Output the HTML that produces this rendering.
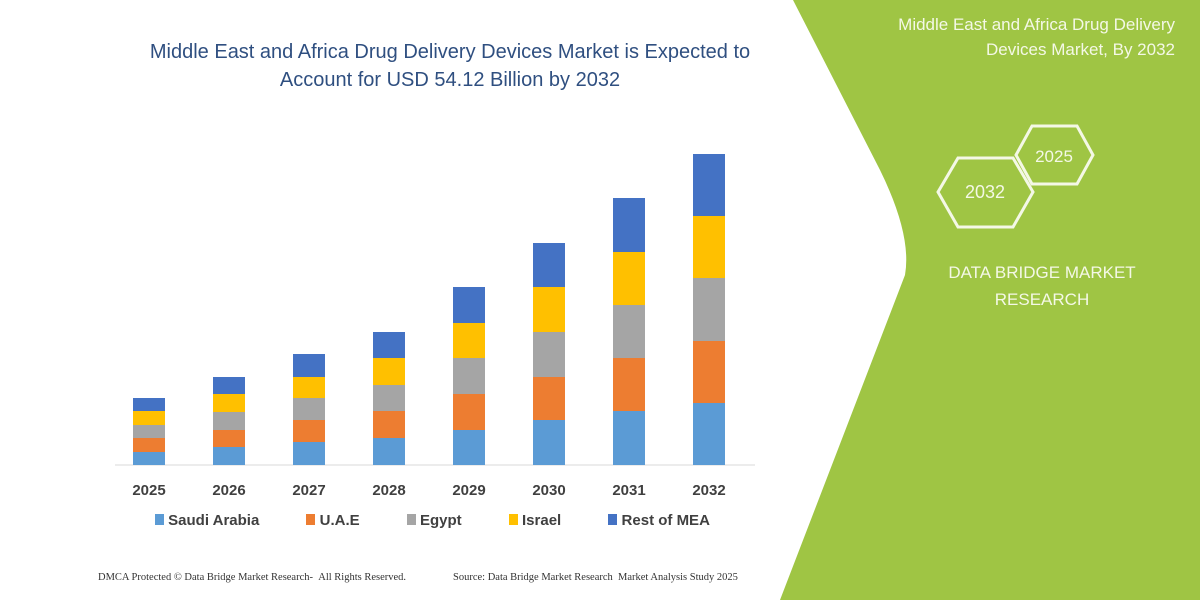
<!DOCTYPE html>
<html><head><style>
body{margin:0;width:1200px;height:600px;overflow:hidden;background:#fff;font-family:"Liberation Sans",sans-serif;position:relative}
.t{position:absolute;white-space:nowrap}
.sq{display:inline-block;width:9px;height:11px}
</style></head><body>
<svg width="1200" height="600" style="position:absolute;left:0;top:0">
<path d="M793,0 L880,170 Q912,235 905,275 L780,600 L1200,600 L1200,0 Z" fill="#9fc544"/>
<g fill="none" stroke="#f4f8e6" stroke-width="3">
<polygon points="938,192 958,158 1013,158 1033,192 1013,227 958,227"/>
<polygon points="1016,155 1032,126 1077,126 1093,155 1077,184 1032,184"/>
</g>
<text x="985" y="198" fill="#f4f8e6" font-size="18" text-anchor="middle" font-family="Liberation Sans">2032</text>
<text x="1054" y="162" fill="#f4f8e6" font-size="17" text-anchor="middle" font-family="Liberation Sans">2025</text>
<text x="1042" y="278" fill="#f4f8e6" font-size="17" text-anchor="middle" font-family="Liberation Sans">DATA BRIDGE MARKET</text>
<text x="1042" y="305" fill="#f4f8e6" font-size="17" text-anchor="middle" font-family="Liberation Sans">RESEARCH</text>
<text x="1175" y="30" fill="#f4f8e6" font-size="17" text-anchor="end">Middle East and Africa Drug Delivery</text>
<text x="1175" y="55" fill="#f4f8e6" font-size="17" text-anchor="end">Devices Market, By 2032</text>
<line x1="115" y1="465" x2="755" y2="465" stroke="#d9d9d9"/>
<g id="bars"></g>
</svg>
<div class="t" style="left:0;width:900px;text-align:center;top:38px;font-size:20px;color:#2f4f80;line-height:28px">Middle East and Africa Drug Delivery Devices Market is Expected to<br>Account for USD 54.12 Billion by 2032</div>
<div class="t" style="left:98px;top:572px;font-size:10.5px;font-family:'Liberation Serif',serif;color:#333">DMCA Protected © Data Bridge Market Research- &nbsp;All Rights Reserved.</div>
<div class="t" style="left:453px;top:572px;font-size:10.5px;font-family:'Liberation Serif',serif;color:#333">Source: Data Bridge Market Research &nbsp;Market Analysis Study 2025</div>
<div class="t" style="top:512px;left:155px;font-size:15px;font-weight:bold;color:#404040">
<span class="sq" style="background:#5b9bd5"></span> Saudi Arabia
<span class="sq" style="background:#ed7d31;margin-left:43px"></span> U.A.E
<span class="sq" style="background:#a5a5a5;margin-left:43px"></span> Egypt
<span class="sq" style="background:#ffc000;margin-left:43px"></span> Israel
<span class="sq" style="background:#4472c4;margin-left:43px"></span> Rest of MEA
</div>
<script>
var d=[[452,438,425,411,398],[447,430,412,394,377],[442,420,398,377,354],[438,411,385,358,332],[430,394,358,323,287],[420,377,332,287,243],[411,358,305,252,198],[403,341,278,216,154]];
var c=["#5b9bd5","#ed7d31","#a5a5a5","#ffc000","#4472c4"];var s="";
d.forEach(function(b,i){var x=133+80*i,prev=465;b.forEach(function(y,j){s+='<rect x="'+x+'" y="'+y+'" width="32" height="'+(prev-y)+'" fill="'+c[j]+'"/>';prev=y;});
s+='<text x="'+(x+16)+'" y="495" text-anchor="middle" font-size="15" font-weight="bold" fill="#404040" font-family="Liberation Sans">'+(2025+i)+'</text>';});
document.getElementById("bars").innerHTML=s;
</script>
</body></html>
